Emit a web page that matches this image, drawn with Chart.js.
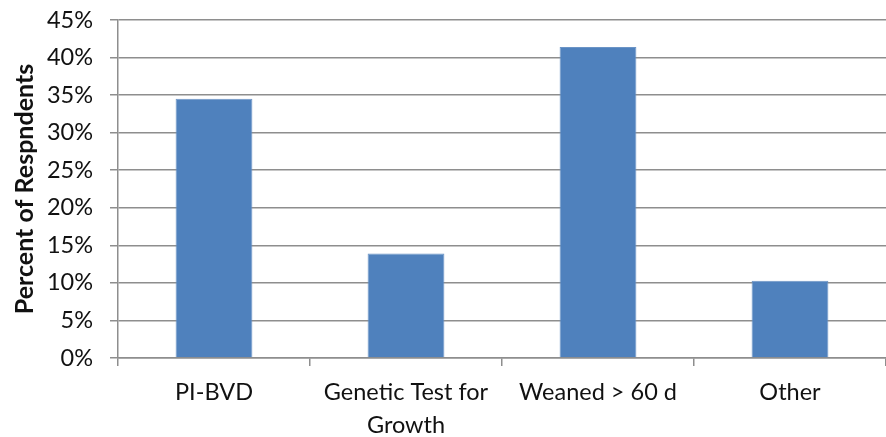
<!DOCTYPE html>
<html lang="en">
  <head>
    <meta charset="UTF-8" />
    <script src="https://cdn.jsdelivr.net/npm/chart.js"></script>
    <style>
      body { margin: 0; background: #fff; }
      #wrap { width: 886px; height: 437px; position: relative; }
    </style>
  </head>
  <body>
    <div id="wrap"><canvas id="chart"></canvas></div>
    <script>
      // data
      const categories = [["PI-BVD"], ["Genetic Test for", "Growth"], ["Weaned > 60 d"], ["Other"]];
      const percents = [34.5, 13.9, 41.4, 10.3];
      const yTicks = [0, 5, 10, 15, 20, 25, 30, 35, 40, 45];

      const gridColor = "#8e8e8e";
      const textColor = "#111";
      const font = { family: "Lato", size: 23.5 };

      new Chart(document.getElementById("chart"), {
        type: "bar",
        data: {
          labels: categories,
          datasets: [
            {
              data: percents,
              backgroundColor: "#4F81BD",
              borderColor: "#6b94c6",
              borderWidth: 1,
              categoryPercentage: 1,
              barPercentage: 0.4,
            },
          ],
        },
        options: {
          responsive: true,
          maintainAspectRatio: false,
          animation: false,
          layout: { padding: { top: 20, right: 0, left: 0, bottom: 0 } },
          plugins: { legend: { display: false }, tooltip: { enabled: false } },
          scales: {
            x: {
              afterFit: (s) => { s.height = 79; s.paddingLeft = 0; s.paddingRight = 0; },
              grid: { drawOnChartArea: false, tickLength: 8, color: gridColor, lineWidth: 1.5 },
              border: { color: gridColor, width: 1.5 },
              ticks: { color: textColor, font: { ...font, lineHeight: 1.4 }, padding: 10, maxRotation: 0 },
            },
            y: {
              min: 0,
              max: 45,
              afterFit: (s) => { s.width = 118; s.paddingTop = 0; s.paddingBottom = 0; },
              afterBuildTicks: (s) => { s.ticks = yTicks.map((v) => ({ value: v })); },
              grid: { tickLength: 8, color: gridColor, lineWidth: 1.5 },
              border: { color: gridColor, width: 1.5 },
              ticks: { color: textColor, font: font, padding: 17, callback: (v) => v + "%" },
              title: {
                display: true,
                text: "Percent of Respndents",
                color: textColor,
                font: { family: "Lato", size: 25, weight: "bold" },
                padding: { top: 10, bottom: 0 },
              },
            },
          },
        },
      });
    </script>
  </body>
</html>
